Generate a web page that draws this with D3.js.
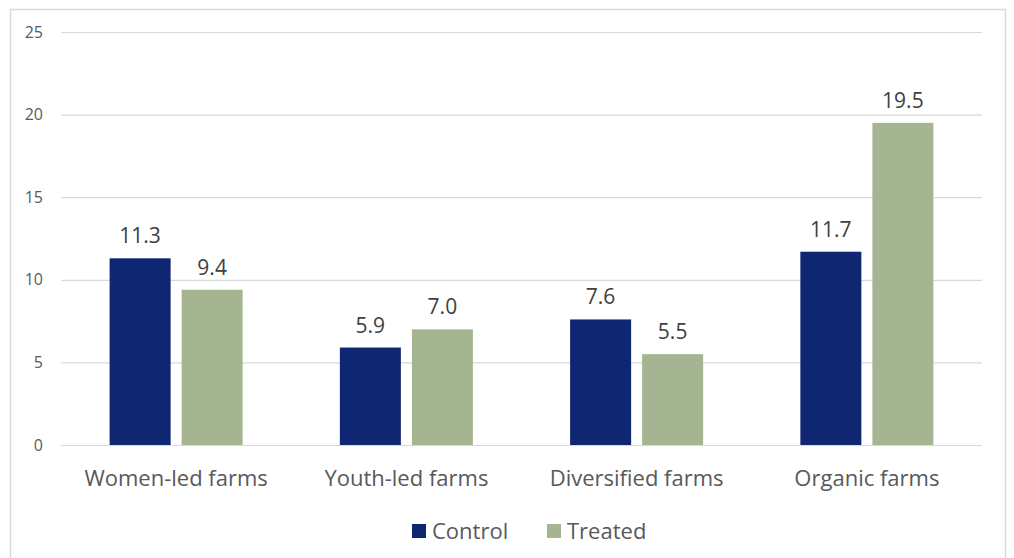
<!DOCTYPE html>
<html>
<head>
    <script src="https://d3js.org/d3.v7.min.js"></script>
    <style>
        body, html { margin: 0; background: #fff; overflow: hidden; }
        text { font-family: "Open Sans", Lato, sans-serif; }
    </style>
</head>
<body>
<div id="chart"></div>
<script>
    const categories = ["Women-led farms", "Youth-led farms", "Diversified farms", "Organic farms"];
    const seriesNames = ["Control", "Treated"];
    const control = [11.3, 5.9, 7.6, 11.7];
    const treated = [9.4, 7.0, 5.5, 19.5];
    const yTicks = [0, 5, 10, 15, 20, 25];
    const colors = ["#0f2672", "#a5b592"];

    const width = 1014, height = 558;
    const margin = {left: 61, right: 32, top: 32, bottom: 113}; // plot area 61..982, 32..445

    const svg = d3.select("#chart").append("svg")
        .attr("width", width).attr("height", height);

    // outer chart border
    svg.append("rect")
        .attr("x", 10.5).attr("y", 9.5)
        .attr("width", 995).attr("height", 560)
        .attr("fill", "none").attr("stroke", "#d9d9d9").attr("stroke-width", 1.5);

    const x = d3.scaleBand()
        .domain(categories)
        .range([margin.left, width - margin.right]);
    const sub = d3.scaleBand()
        .domain(seriesNames)
        .range([0, x.bandwidth()])
        .paddingInner(0.153).paddingOuter(0.675);
    const y = d3.scaleLinear()
        .domain([0, 25])
        .range([height - margin.bottom, margin.top]);

    // gridlines + y labels
    const yAxis = svg.append("g")
        .attr("transform", `translate(${margin.left},0)`)
        .call(d3.axisLeft(y).tickValues(yTicks).tickSize(-(width - margin.left - margin.right)).tickPadding(18));
    yAxis.select(".domain").remove();
    yAxis.selectAll(".tick line").attr("stroke", "#d9d9d9").attr("stroke-width", 1.2);
    yAxis.selectAll(".tick text").attr("fill", "#595959").style("font-size", "16px");

    // x labels
    const xAxis = svg.append("g")
        .attr("transform", `translate(0,${height - margin.bottom})`)
        .call(d3.axisBottom(x).tickSize(0).tickPadding(25));
    xAxis.select(".domain").remove();
    xAxis.selectAll(".tick text").attr("fill", "#595959").style("font-size", "22px");

    const rows = categories.map((c, i) => ({cat: c, values: [control[i], treated[i]]}));

    const groups = svg.selectAll(".grp").data(rows).join("g")
        .attr("transform", d => `translate(${x(d.cat)},0)`);

    groups.selectAll("rect")
        .data(d => d.values.map((v, j) => ({name: seriesNames[j], value: v, j: j})))
        .join("rect")
        .attr("x", d => sub(d.name))
        .attr("width", sub.bandwidth())
        .attr("y", d => y(d.value))
        .attr("height", d => y(0) - y(d.value))
        .attr("fill", d => colors[d.j]);

    groups.selectAll(".val")
        .data(d => d.values.map((v, j) => ({name: seriesNames[j], value: v})))
        .join("text")
        .attr("class", "val")
        .attr("x", d => sub(d.name) + sub.bandwidth() / 2)
        .attr("y", d => y(d.value) - 15)
        .attr("text-anchor", "middle")
        .attr("fill", "#404040")
        .style("font-size", "21px")
        .text(d => d.value.toFixed(1));

    // legend
    const legend = svg.append("g").attr("transform", "translate(412,531)");
    const legX = [0, 135];
    seriesNames.forEach((s, i) => {
        legend.append("rect")
            .attr("x", legX[i]).attr("y", -7)
            .attr("width", 14).attr("height", 14)
            .attr("fill", colors[i]);
        legend.append("text")
            .attr("x", legX[i] + 20).attr("y", 0)
            .attr("dy", "0.35em")
            .attr("fill", "#595959")
            .style("font-size", "22px")
            .text(s);
    });
</script>
</body>
</html>
